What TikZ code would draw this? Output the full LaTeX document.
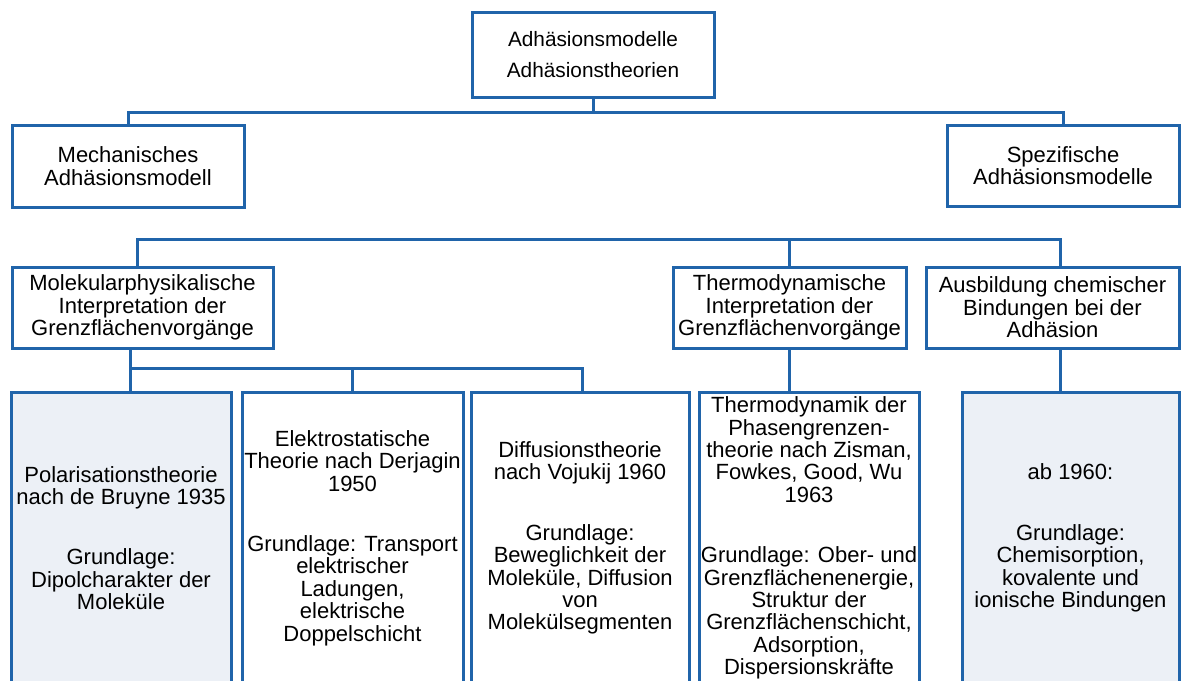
\documentclass[tikz,border=0pt]{standalone}
\usepackage{fontspec}
\setmainfont{Liberation Sans}
\definecolor{boxblue}{RGB}{32,100,170}
\definecolor{boxfill}{RGB}{236,240,246}

\begin{document}
\begin{tikzpicture}[x = 0.5pt, y = -0.5pt,
  box/.style = {draw = boxblue, line width = 1.5pt, fill = white, align = center,
    inner sep = 0pt, font = \fontsize{11}{11.2}\selectfont},
  shaded/.style = {box, fill = boxfill},
  link/.style = {draw = boxblue, line width = 1.5pt}]
\clip (0, 0) rectangle (1181, 680);
\node (top) at (593, 54.5) [box, font = \fontsize{10.4}{11.2}\selectfont, minimum width = 121pt, minimum height = 42.5pt] {Adhäsionsmodelle\\[4pt] Adhäsionstheorien};
\node (mech) at (128, 166) [box, minimum width = 116pt, minimum height = 41pt] {Mechanisches\\ Adhäsionsmodell};
\node (spez) at (1063, 165.5) [box, minimum width = 116pt, minimum height = 40.5pt] {Spezifische\\ Adhäsionsmodelle};
\node (molek) at (142.5, 307.5) [box, minimum width = 130.5pt, minimum height = 40.5pt] {Molekularphysikalische\\ Interpretation der\\ Grenzflächenvorgänge};
\node (thermo) at (789.5, 307.5) [box, minimum width = 116.5pt, minimum height = 40.5pt] {Thermodynamische\\ Interpretation der\\ Grenzflächenvorgänge};
\node (ausb) at (1052.5, 307.5) [box, minimum width = 126.5pt, minimum height = 40.5pt] {Ausbildung chemischer\\ Bindungen bei der\\ Adhäsion};
\node (polar) at (121, 538) [shaded, minimum width = 110pt, minimum height = 146pt] {Polarisationstheorie\\ nach de Bruyne 1935\\[19pt] Grundlage:\\ Dipolcharakter der\\ Moleküle};
\node (elektro) at (352.5, 538) [box, minimum width = 110.5pt, minimum height = 146pt] {Elektrostatische\\ Theorie nach Derjagin\\ 1950\\[19pt] Grundlage: Transport\\ elektrischer\\ Ladungen,\\ elektrische\\ Doppelschicht};
\node (diffus) at (580, 538) [box, minimum width = 109pt, minimum height = 146pt] {Diffusionstheorie\\ nach Vojukij 1960\\[19pt] Grundlage:\\ Beweglichkeit der\\ Moleküle, Diffusion\\ von\\ Molekülsegmenten};
\node (thermodyn) at (809, 538) [box, minimum width = 110pt, minimum height = 146pt] {Thermodynamik der\\ Phasengrenzen-\\ theorie nach Zisman,\\ Fowkes, Good, Wu\\ 1963\\[19pt] Grundlage: Ober- und\\ Grenzflächenenergie,\\ Struktur der\\ Grenzflächenschicht,\\ Adsorption,\\ Dispersionskräfte};
\node (ab) at (1070.5, 538) [shaded, minimum width = 108.5pt, minimum height = 146pt] {ab 1960:\\[19pt] Grundlage:\\ Chemisorption,\\ kovalente und\\ ionische Bindungen};
\coordinate (j1) at (593, 112);
\coordinate (j2) at (137, 239);
\coordinate (j3) at (1060, 239);
\coordinate (j4) at (130, 368);
\coordinate (j5) at (582, 368);
\draw [link] (top.south) -- (j1);
\draw [link] (mech.north) |- (j1) -| (spez.north);
\draw [link] (molek.north -| j2) -- (j2) -- (j3) -- (ausb.north -| j3);
\draw [link] (thermo.north) -- (thermo.north |- j2);
\draw [link] (molek.south -| j4) -- (polar.north -| j4);
\draw [link] (j4) -- (j5) -- (diffus.north -| j5);
\draw [link] (elektro.north) -- (elektro.north |- j4);
\draw [link] (thermo.south) -- (thermodyn.north -| thermo.south);
\draw [link] (ausb.south -| j3) -- (ab.north -| j3);
\end{tikzpicture}
\end{document}
